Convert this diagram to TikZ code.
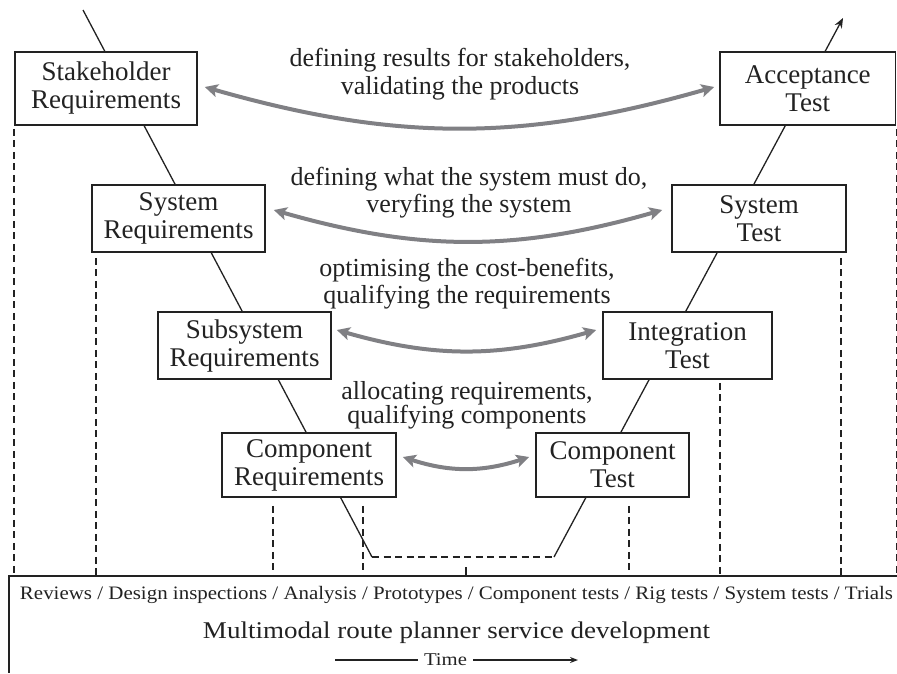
\documentclass[tikz,border=0pt]{standalone}
\usepackage{fontspec}
\setmainfont{Liberation Serif}
\usetikzlibrary{arrows.meta,calc}
\definecolor{agray}{RGB}{128,128,132}
\definecolor{ink}{RGB}{34,34,34}
\begin{document}
\begin{tikzpicture}[x=1pt,y=-1pt,
  box/.style={draw=ink, line width=1.6pt, fill=white, align=center, inner sep=0pt, text=ink, font=\fontsize{27}{28}\selectfont},
  lbl/.style={align=center, inner sep=0pt, text=ink, font=\fontsize{26}{27.5}\selectfont},
  vline/.style={draw=ink, line width=1.3pt},
  dsh/.style={draw=ink, line width=1.6pt, dash pattern=on 7pt off 4.5pt},
  garrow/.style={draw=agray, line width=4pt, arrows={Stealth[length=13pt,width=13pt,inset=3pt]-Stealth[length=13pt,width=13pt,inset=3pt]}}
]
\useasboundingbox (0,0) rectangle (897,673);

% V backbone
\coordinate (vtop) at (83,10);
\coordinate (vbl) at (372,557);
\coordinate (vbr) at (554,557);
\coordinate (vend) at (843,18);
\draw[vline] (vtop) -- (vbl);
\draw[dsh] (vbl) -- (vbr);
\draw[vline, -{Stealth[length=10pt,width=8pt]}] (vbr) -- (vend);

% boxes
\node[box, minimum width=182pt, minimum height=73pt] (sr)  at (106,88.5)   {Stakeholder\\Requirements};
\node[box, minimum width=173pt, minimum height=67pt] (sys) at (178.5,218.5) {System\\Requirements};
\node[box, minimum width=173pt, minimum height=67pt] (sub) at (244.5,345.5) {Subsystem\\Requirements};
\node[box, minimum width=174pt, minimum height=64pt] (cr)  at (309,465)    {Component\\Requirements};
\node[box, minimum width=175.5pt, minimum height=73pt] (at) at (807.75,88.5) {Acceptance\\Test};
\node[box, minimum width=174pt, minimum height=67pt] (st)  at (759,218.5)  {System\\Test};
\node[box, minimum width=169pt, minimum height=67pt] (it)  at (687.5,345.5) {Integration\\Test};
\node[box, minimum width=153pt, minimum height=64pt] (ct)  at (612.5,465)  {Component\\Test};

% labels
\node[lbl] (l1) at (460,74)    {defining results for stakeholders,\\validating the products};
\node[lbl] (l2) at (469,192.5) {defining what the system must do,\\veryfing the system};
\node[lbl] (l3) at (467,283.5) {optimising the cost-benefits,\\qualifying the requirements};
\node[lbl, font=\fontsize{26}{24}\selectfont] (l4) at (467,405) {allocating requirements,\\qualifying components};

% gray arrows
\coordinate (a1l) at ($(sr.east)+(7,-1.5)$);
\coordinate (a1r) at ($(at.west)+(-5,-1.5)$);
\coordinate (a2l) at ($(sys.east)+(8,-8.5)$);
\coordinate (a2r) at ($(st.west)+(-9,-8.5)$);
\coordinate (a3l) at ($(sub.east)+(5,-15.5)$);
\coordinate (a3r) at ($(it.west)+(-6,-15.5)$);
\coordinate (a4l) at ($(cr.east)+(6,-8)$);
\coordinate (a4r) at ($(ct.west)+(-6,-8)$);
\draw[garrow] (a1l) to[bend right=16] (a1r);
\draw[garrow] (a2l) to[bend right=16] (a2r);
\draw[garrow] (a3l) to[bend right=16] (a3r);
\draw[garrow] (a4l) to[bend right=18] (a4r);

% bottom frame
\coordinate (bl) at (9,576);
\coordinate (br) at (897,576);
\coordinate (bb) at (9,673);
\draw[ink, line width=1.6pt] (br) -- (bl) -- (bb);

% dashed verticals
\coordinate (d1) at ($(sr.south west)+(0,3)$);
\coordinate (d2) at ($(sys.south west)+(5,5)$);
\coordinate (d3) at ($(cr.south west)+(52,8)$);
\coordinate (d4) at ($(cr.south east)+(-34,8)$);
\coordinate (d5) at ($(ct.south east)+(-61,8)$);
\coordinate (d6) at ($(it.south east)+(-53,3)$);
\coordinate (d7) at ($(st.south east)+(-6,5)$);
\coordinate (d8) at ($(at.south east)+(0,3)$);
\foreach \p in {d1,d2,d3,d4,d5,d6,d7,d8}
  \draw[dsh] (\p) -- (\p |- bl);
\coordinate (tk) at (466,567);
\draw[ink, line width=1.4pt] (tk) -- (tk |- bl);

% bottom texts
\node[anchor=base, inner sep=0pt, text=ink] (rev) at (456.5,599)
  {\resizebox{873pt}{\height}{\fontsize{19}{22}\selectfont Reviews / Design inspections / Analysis / Prototypes / Component tests / Rig tests / System tests / Trials}};
\node[anchor=base, inner sep=0pt, text=ink] (title) at (456.5,638)
  {\resizebox{507pt}{\height}{\fontsize{24}{28}\selectfont Multimodal route planner service development}};
\node[anchor=base, inner sep=0pt, text=ink] (time) at (445.5,665)
  {\resizebox{43pt}{\height}{\fontsize{18}{20}\selectfont Time}};
\coordinate (tl1) at (335,660);
\coordinate (tl2) at (418,660);
\coordinate (tr1) at (473,660);
\coordinate (tr2) at (578,660);
\draw[ink, line width=1.3pt] (tl1) -- (tl2);
\draw[ink, line width=1.3pt, -{Stealth[length=8pt,width=6pt]}] (tr1) -- (tr2);
\end{tikzpicture}
\end{document}
